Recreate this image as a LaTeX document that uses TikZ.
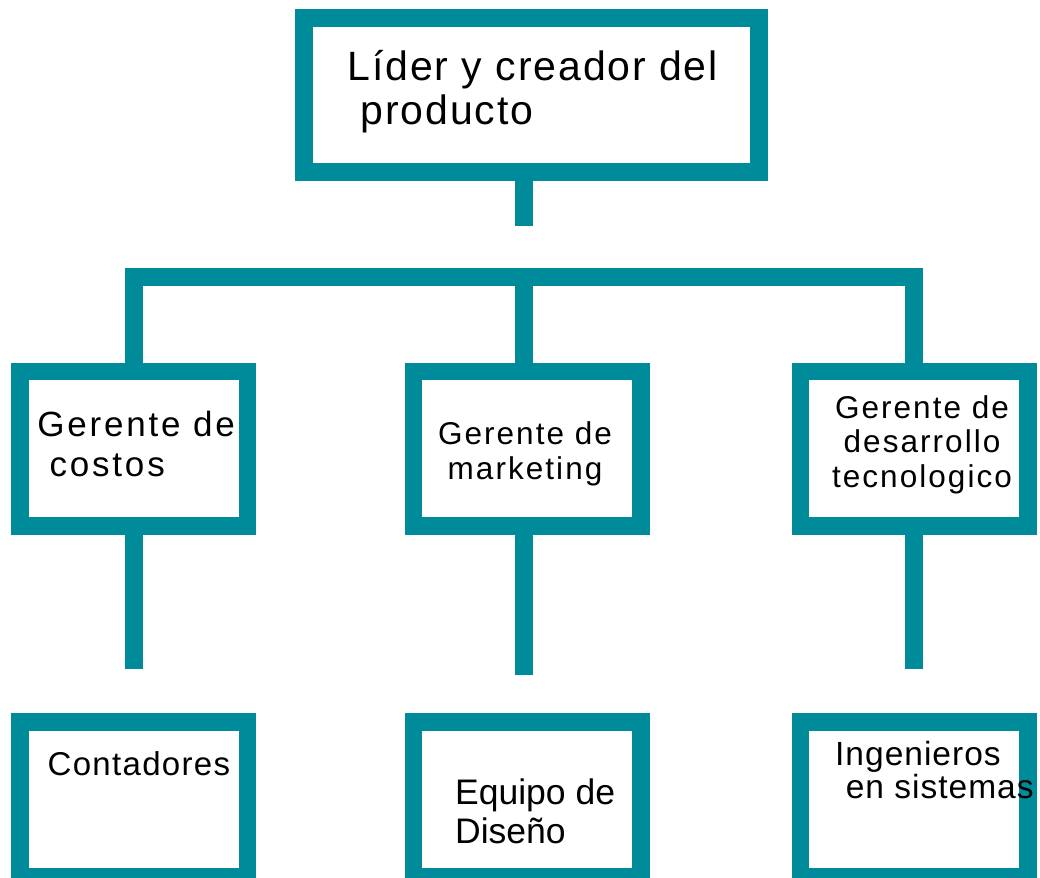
\documentclass[tikz,border=0pt]{standalone}
\usepackage{fontspec}
\setmainfont{Liberation Sans}
\usetikzlibrary{positioning}
\definecolor{orgteal}{RGB}{0,139,154}

\begin{document}
\begin{tikzpicture}[x=1pt, y=-1pt,
    orgbox/.style={rectangle, draw=orgteal, line width=17.6pt, minimum width=\BoxW, minimum height=\BoxH, inner sep=0pt},
    link/.style={draw=orgteal, line width=17.6pt, line join=miter},
    txt/.style={inner sep=0pt, text=black}
]

% Parameters for the box sizes
\newcommand{\BoxW}{227.4pt}
\newcommand{\BoxH}{154.7pt}

\useasboundingbox (0,0) rectangle (1040,877);

% Top box
\node[orgbox, minimum width=454.8pt, minimum height=154.4pt] (lider) at (531.5,95) {};

% Manager boxes
\foreach \name/\x in {costos/133.8, mkt/527, tecno/914.2}{
    \node[orgbox] (\name) at (\x,448.8) {};
}

% Team boxes
\foreach \name/\x in {cont/133.8, equipo/527, ing/914.2}{
    \node[orgbox] (\name) at (\x,799.6) {};
}

% Texts (placed at the baseline of their last line)
\node[txt, anchor=base west, align=left, font={\fontsize{41}{44}\selectfont\addfontfeature{LetterSpace=4.6}}] (lider-t) at (347.5,125) {Líder y creador del\\\hspace*{13pt}producto};
\node[txt, anchor=base west, align=left, font={\fontsize{35}{40.7}\selectfont\addfontfeature{LetterSpace=8}}] (costos-t) at (37.2,476.7) {Gerente de\\\hspace*{12.2pt}costos};
\node[txt, anchor=base, align=center, font={\fontsize{31.5}{35.3}\selectfont\addfontfeature{LetterSpace=6.5}}] (mkt-t) at (525,479.3) {Gerente de\\marketing};
\node[txt, anchor=base, align=center, font={\fontsize{31.5}{34.5}\selectfont\addfontfeature{LetterSpace=6.5}}] (tecno-t) at (922,487.3) {Gerente de\\desarrollo\\tecnologico};
\node[txt, anchor=base west, font={\fontsize{33}{38}\selectfont\addfontfeature{LetterSpace=4}}] (cont-t) at (47.5,775) {Contadores};
\node[txt, anchor=base west, align=left, font={\fontsize{35.5}{39.3}\selectfont}] (equipo-t) at (455,843.3) {Equipo de\\Diseño};
\node[txt, anchor=base west, align=left, font={\fontsize{33.5}{33.3}\selectfont\addfontfeature{LetterSpace=3}}] (ing-t) at (835,798.3) {Ingenieros\\\hspace*{10.6pt}en sistemas};

% Stub under the top box
\coordinate (lider-end) at (524,225.7);
\draw[link] (lider-end |- lider.south) -- (lider-end);

% Bar to the managers
\coordinate (bar) at (524,277);
\draw[link] (costos.north) |- (bar) -| (tecno.north);
\draw[link] (bar) -- (bar |- mkt.north);

% Stubs under the managers
\coordinate (costos-end) at (133.8,669.3);
\coordinate (mkt-end) at (524,675);
\coordinate (tecno-end) at (913.9,669.3);
\foreach \name in {costos, mkt, tecno}{
    \draw[link] (\name-end |- \name.south) -- (\name-end);
}

\end{tikzpicture}
\end{document}
